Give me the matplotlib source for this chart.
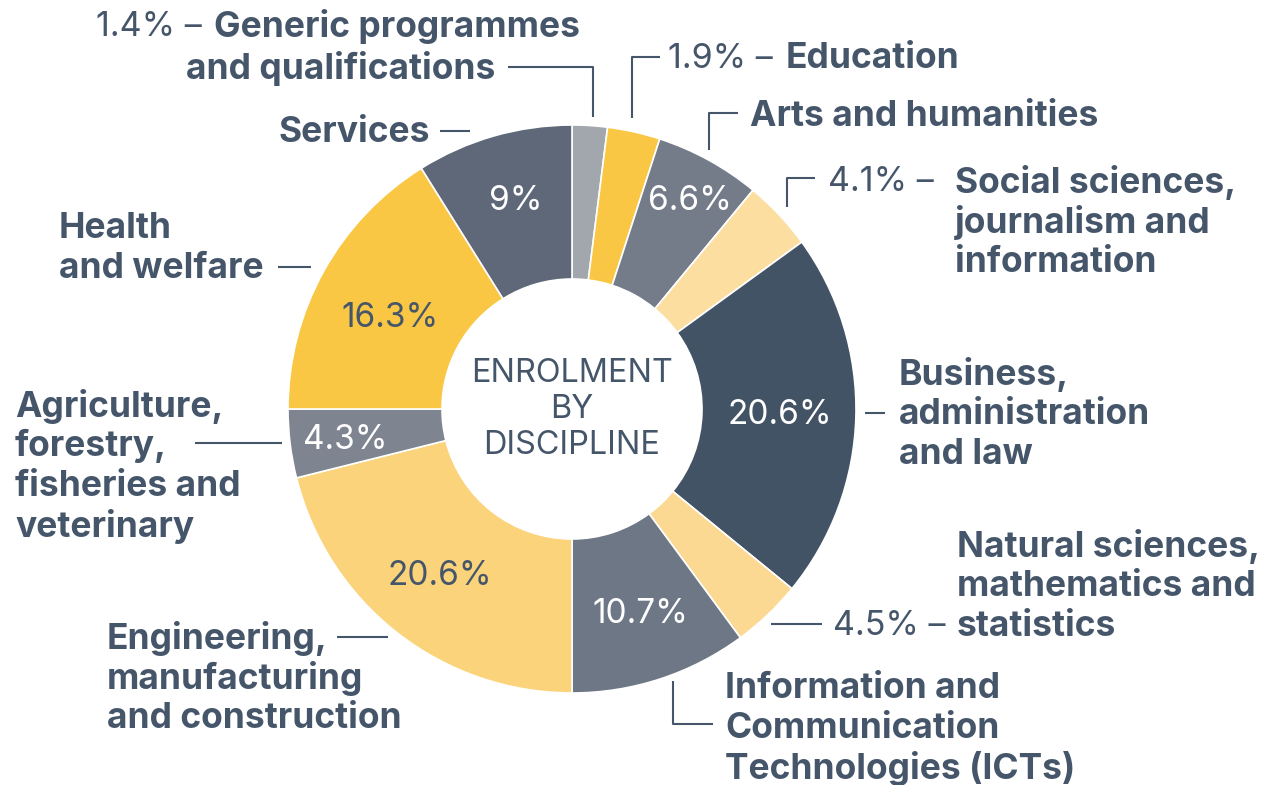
import matplotlib.pyplot as plt

plt.rcParams['font.family'] = ['Inter', 'DejaVu Sans']

# data, clockwise from 12 o'clock
categories = [
    "Generic programmes\nand qualifications",
    "Education",
    "Arts and humanities",
    "Social sciences,\njournalism and\ninformation",
    "Business,\nadministration\nand law",
    "Natural sciences,\nmathematics and\nstatistics",
    "Information and\nCommunication\nTechnologies (ICTs)",
    "Engineering,\nmanufacturing\nand construction",
    "Agriculture,\nforestry,\nfisheries and\nveterinary",
    "Health\nand welfare",
    "Services",
]
# printed shares (%)
shares = [1.4, 1.9, 6.6, 4.1, 20.6, 4.5, 10.7, 20.6, 4.3, 16.3, 9.0]
# angular size of each slice as drawn in the picture (%)
arc_share = [2.0, 3.0, 6.0, 4.0, 20.9, 4.0, 10.1, 21.1, 3.9, 16.1, 8.9]
center_title = ["ENROLMENT", "BY", "DISCIPLINE"]

colors = ["#a2a6ad", "#f9c744", "#747c8a", "#fcdfa0", "#435366", "#fcd993",
          "#6d7786", "#fbd37b", "#7f8491", "#f9c744", "#5f6878"]
TXT = "#46566a"
W, H = 1263, 785
CX, CY, R, R_IN = 572, 409, 284, 130

# inside percent labels: index -> (x, y, colour)
inside = {2: (690, 199, "white"), 4: (780, 413, "white"), 6: (640, 612, "white"),
          7: (440, 574, TXT), 8: (345, 438, "white"), 9: (390, 316, TXT),
          10: (516, 199, "white")}

# outside labels: index -> (x, y of first line, ha)
outside = {2: (750, 114, "left"), 3: (955, 180, "left"),
           4: (899, 373, "left"), 5: (957, 545, "left"),
           6: (725, 686, "left"), 7: (107, 637, "left"),
           8: (15, 404, "left"), 9: (59, 227, "left"),
           10: (430, 131, "right")}
# percent prefixes for outside labels: index -> (x, y)
prefix = {3: (828, 180), 5: (833, 624)}

connectors = [
    [(508, 67), (593, 67), (593, 117)],
    [(660, 57), (632, 57), (632, 118)],
    [(738, 113), (709, 113), (709, 150)],
    [(815, 178), (787, 178), (787, 207)],
    [(865, 413), (885, 413)],
    [(771, 624), (822, 624)],
    [(673, 681), (673, 724), (713, 724)],
    [(337, 637), (388, 637)],
    [(195, 443), (282, 443)],
    [(278, 267), (311, 267)],
    [(440, 131), (470, 131)],
]

LINE = 40
FS = 24.5      # regular text
FS_B = 25.5    # bold category names


def put(x, y, s, **kw):
    return ax.text(x, H - y - 2, s, va="center", color=kw.pop("color", TXT),
                   fontsize=kw.pop("fontsize", FS), **kw)


def chain(prev, s):
    # place bold text right after a regular piece, on the same baseline
    return ax.annotate(s, xy=(1, 0.5), xycoords=prev, xytext=(9, 0),
                       textcoords="offset points", va="center", ha="left",
                       color=TXT, fontsize=FS_B, fontweight="bold")


fig = plt.figure(figsize=(W / 100, H / 100), dpi=100)
ax = fig.add_axes([0, 0, 1, 1])

ax.pie(arc_share, colors=colors, center=(CX, H - CY), radius=R, startangle=90,
       counterclock=False,
       wedgeprops=dict(width=R - R_IN, edgecolor="white", linewidth=1.2))

for i, (x, y, c) in inside.items():
    put(x, y, f"{shares[i]:g}%", color=c, ha="center", fontsize=24)

# generic programmes: percent + first line, second line centred underneath
g_lines = categories[0].split("\n")
t = put(96, 25, f"{shares[0]:g}% –", ha="left")
chain(t, g_lines[0])
put(341, 66, g_lines[1], ha="center", fontweight="bold", fontsize=FS_B)

# education: single line
t = put(668, 57, f"{shares[1]:g}% –", ha="left")
chain(t, categories[1])

for i, (x, y) in prefix.items():
    put(x, y, f"{shares[i]:g}% –", ha="left")

for i, (x, y, ha) in outside.items():
    for k, ln in enumerate(categories[i].split("\n")):
        put(x, y + k * LINE, ln, ha=ha, fontweight="bold", fontsize=FS_B)

for pts in connectors:
    xs = [p[0] for p in pts]
    ys = [H - p[1] for p in pts]
    ax.plot(xs, ys, color=TXT, lw=1.5, solid_capstyle="butt")

for k, ln in enumerate(center_title):
    put(CX, 372 + k * 36, ln, ha="center", fontsize=23.3)

ax.set_xlim(0, W)
ax.set_ylim(0, H)
ax.set_aspect("equal")
ax.axis("off")

fig.savefig("out.png", dpi=100)
